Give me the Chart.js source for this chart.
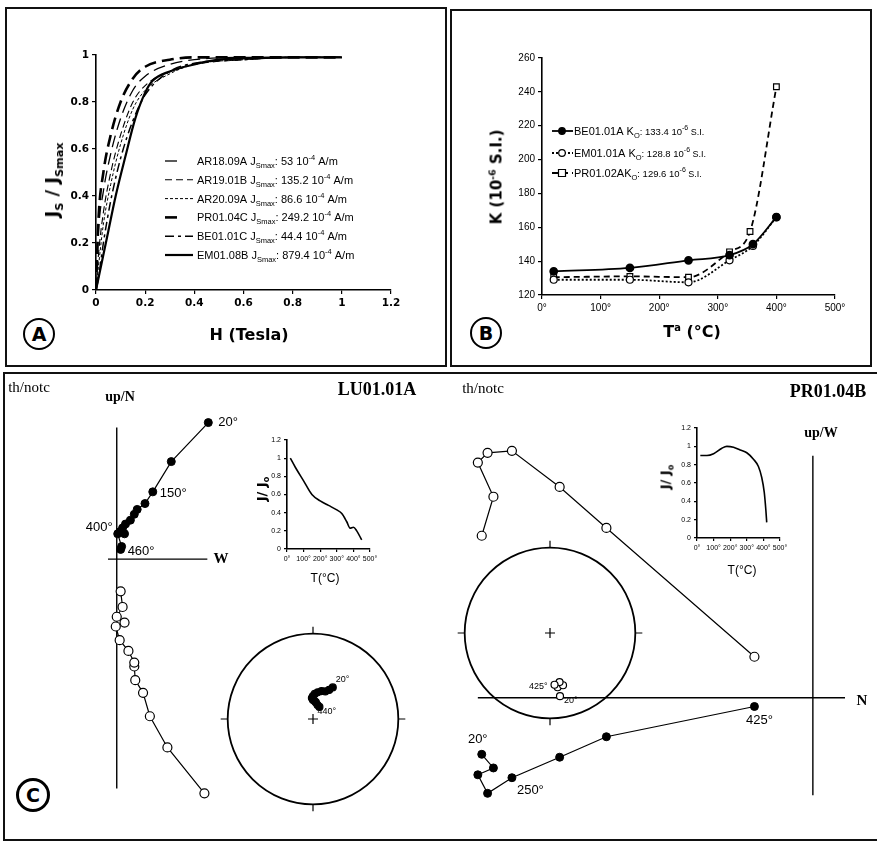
<!DOCTYPE html>
<html>
<head>
<meta charset="utf-8">
<title>IRM, susceptibility and demagnetisation</title>
<script src="https://cdn.jsdelivr.net/npm/chart.js@4.4.1/dist/chart.umd.min.js"></script>
<style>
  html, body { margin: 0; padding: 0; background: #fff; }
  body { position: relative; width: 877px; height: 843px; overflow: hidden; color: #000; }
  canvas { position: absolute; }
  .frame { position: absolute; box-sizing: border-box; border: 2px solid #111; }
  .t { position: absolute; white-space: nowrap; line-height: 1; }
  .title { font-family: 'DejaVu Sans', sans-serif; font-weight: bold; }
  .serif { font-family: 'Liberation Serif', serif; }
  .ring { position: absolute; box-sizing: border-box; border: 2px solid #000; border-radius: 50%;
          font-family: 'DejaVu Sans', sans-serif; font-weight: bold;
          display: flex; align-items: center; justify-content: center; }
  sub, sup { font-size: 62%; line-height: 0; }
</style>
</head>
<body>
<div class="frame" style="left:5px;top:7px;width:442px;height:360px"></div>
<div class="frame" style="left:450px;top:9px;width:422px;height:358px"></div>
<div class="frame" style="left:3px;top:372px;width:890px;height:469px"></div>
<div class="ring" style="left:23px;top:318px;width:32px;height:32px;font-size:19px">A</div>
<div class="ring" style="left:470px;top:317px;width:32px;height:32px;font-size:19px">B</div>
<div class="ring" style="left:16px;top:778px;width:34px;height:34px;font-size:19px;border-width:3px">C</div>

<script>
// ---------- A : normalised IRM acquisition ----------
const irmField = [0, 0.01, 0.03, 0.06, 0.1, 0.15, 0.2, 0.3, 0.4, 0.6, 0.8, 1.0];
const irmFieldEM = [0, 0.02, 0.05, 0.08, 0.12, 0.16, 0.2, 0.23, 0.3, 0.4, 0.5, 0.6, 0.8, 1.0];
const irmAR1809A = [0, 0.25, 0.42, 0.58, 0.73, 0.85, 0.91, 0.96, 0.98, 0.99, 0.99, 0.99];
const irmAR1901B = [0, 0.15, 0.33, 0.5, 0.66, 0.8, 0.87, 0.93, 0.96, 0.98, 0.99, 0.99];
const irmAR2009A = [0, 0.1, 0.28, 0.45, 0.62, 0.77, 0.85, 0.92, 0.96, 0.98, 0.99, 0.99];
const irmPR0104C = [0, 0.3, 0.5, 0.66, 0.8, 0.9, 0.95, 0.98, 0.99, 0.99, 0.99, 0.99];
const irmBE0101C = [0, 0.05, 0.2, 0.38, 0.56, 0.72, 0.83, 0.93, 0.965, 0.98, 0.99, 0.99];
const irmEM0108B = [0, 0.1, 0.25, 0.4, 0.57, 0.73, 0.84, 0.89, 0.93, 0.96, 0.98, 0.985, 0.99, 0.99];
const irmSamples = ['AR18.09A', 'AR19.01B', 'AR20.09A', 'PR01.04C', 'BE01.01C', 'EM01.08B'];
const irmJsmax = ['53', '135.2', '86.6', '249.2', '44.4', '879.4'];
const irmTicksX = ['0', '0.2', '0.4', '0.6', '0.8', '1', '1.2'];
const irmTicksY = ['0', '0.2', '0.4', '0.6', '0.8', '1'];

// ---------- B : susceptibility vs temperature ----------
const suscTemp = [20, 150, 250, 320, 360, 400];
const suscTempPR = [20, 150, 250, 320, 355, 400];
const suscBE0101A = [134, 136, 140.5, 143.5, 150, 166];
const suscEM0101A = [129, 129, 127.5, 140.5, 149, 166];
const suscPR0102A = [130.5, 131, 130.5, 145.5, 157.5, 243];
const suscNames = ['BE01.01A K', 'EM01.01A K', 'PR01.02AK'];
const suscK0 = ['133.4', '128.8', '129.6'];
const suscTicksX = ['0°', '100°', '200°', '300°', '400°', '500°'];
const suscTicksY = ['120', '140', '160', '180', '200', '220', '240', '260'];

// ---------- C : LU01.01A ----------
const luHorX = [9.4, 5.6, 3.7, 2.9, 2.1, 1.8, 1.4, 0.9, 0.6, 0.3, 0.8, 0.1, 0.5, 0.4];
const luHorY = [14.0, 10.0, 6.9, 5.7, 5.1, 4.6, 4.0, 3.6, 3.2, 2.8, 2.6, 2.6, 1.3, 1.0];
const luVerX = [9.0, 5.2, 3.4, 2.7, 1.9, 1.8, 1.8, 1.2, 0.3, -0.1, 0.8, 0.0, 0.6, 0.4];
const luVerY = [-24.0, -19.3, -16.1, -13.7, -12.4, -11.0, -10.6, -9.4, -8.3, -6.9, -6.5, -5.9, -4.9, -3.3];
const luDemagT = [20, 50, 100, 150, 200, 250, 300, 330, 360, 380, 400, 420, 450];
const luDemagJ = [1.0, 0.9, 0.75, 0.6, 0.53, 0.48, 0.43, 0.39, 0.3, 0.23, 0.24, 0.2, 0.1];
const luStereoDec = [32, 29, 24, 17, 10, 4, 0, 357, 0, 6, 10, 18, 28];
const luStereoInc = [54, 58, 61, 62, 64, 66, 68, 70, 72, 73, 74, 76, 77];

// ---------- C : PR01.04B ----------
const prN = [-34.0, -32.8, -34.4, -33.4, -30.9, -26.0, -21.2, -6.0];
const prHorW = [-5.8, -7.2, -7.9, -9.8, -8.2, -6.1, -4.0, -0.9];
const prVerUp = [16.6, 20.6, 24.1, 25.1, 25.3, 21.6, 17.4, 4.2];
const prDemagT = [20, 60, 100, 150, 180, 220, 260, 300, 340, 370, 390, 405, 415, 420];
const prDemagJ = [0.9, 0.9, 0.92, 0.98, 1.0, 0.99, 0.96, 0.93, 0.86, 0.78, 0.66, 0.5, 0.3, 0.17];
const prStereoDec = [171, 172, 166, 169, 175];
const prStereoInc = [-26, -36, -37, -41, -39];

const demagTicksX = ['0°', '100°', '200°', '300°', '400°', '500°'];
const demagTicksY = ['0', '0.2', '0.4', '0.6', '0.8', '1', '1.2'];

Chart.defaults.responsive = false;
Chart.defaults.animation = false;
Chart.defaults.devicePixelRatio = 1;
Chart.defaults.color = '#000';
Chart.defaults.font.family = '"Liberation Sans", Arial, sans-serif';
Chart.defaults.plugins.legend.display = false;
Chart.defaults.plugins.tooltip.enabled = false;

function makeCanvas(left, top, w, h) {
  const c = document.createElement('canvas');
  c.width = w; c.height = h;
  c.style.left = left + 'px'; c.style.top = top + 'px';
  c.style.width = w + 'px'; c.style.height = h + 'px';
  document.body.appendChild(c);
  return c;
}

function pts(xs, ys) { return xs.map((x, i) => ({ x: x, y: ys[i] })); }

function put(html, x, y, cls, css, rot) {
  const d = document.createElement('div');
  d.className = 't ' + (cls || '');
  d.innerHTML = html;
  d.style.cssText = 'left:' + x + 'px;top:' + y + 'px;transform:translate(-50%,-50%)' +
    (rot ? ' rotate(-90deg)' : '') + ';' + (css || '');
  document.body.appendChild(d);
}

function axis(min, max, step, labels, font, fit, isY, tick) {
  return {
    type: 'linear', min: min, max: max,
    border: { display: true, color: '#000', width: 1.6 },
    grid: { display: true, drawOnChartArea: false, drawTicks: true, tickLength: tick || 4, color: '#000', lineWidth: 1.2 },
    ticks: { stepSize: step, autoSkip: false, maxRotation: 0, padding: 3, font: font,
             callback: (v, i) => labels[i] },
    afterFit: s => { if (isY) s.width = fit; else s.height = fit; }
  };
}

// text with sub / superscripts: [text, size, shift]
function richText(ctx, x, y, parts) {
  let cx = x;
  ctx.save();
  ctx.fillStyle = '#000';
  ctx.textAlign = 'left';
  ctx.textBaseline = 'alphabetic';
  parts.forEach(p => {
    ctx.font = p[1] + 'px "Liberation Sans", Arial, sans-serif';
    ctx.fillText(p[0], cx, y + p[2]);
    cx += ctx.measureText(p[0]).width;
  });
  ctx.restore();
}

// legend of panel A
const legendA = {
  id: 'legendA',
  afterDraw(chart, args, o) {
    const ctx = chart.ctx;
    chart.data.datasets.forEach((ds, i) => {
      const y = o.y0 + i * o.dy;
      ctx.save();
      ctx.strokeStyle = '#000';
      ctx.lineWidth = ds.borderWidth;
      ctx.setLineDash(ds.borderDash);
      ctx.beginPath(); ctx.moveTo(o.x0, y); ctx.lineTo(o.ends[i], y); ctx.stroke();
      ctx.restore();
      richText(ctx, o.xt, y + 4, [[ds.label + ' J', 11, 0], ['Smax', 7.5, 3],
        [': ' + irmJsmax[i] + ' 10', 11, 0], ['-4', 7.5, -5], [' A/m', 11, 0]]);
    });
  }
};

// legend of panel B
const legendB = {
  id: 'legendB',
  afterDraw(chart, args, o) {
    const ctx = chart.ctx;
    chart.data.datasets.forEach((ds, i) => {
      const y = o.rows[i];
      ctx.save();
      ctx.strokeStyle = '#000';
      ctx.lineWidth = ds.borderWidth;
      ctx.setLineDash(ds.borderDash);
      ctx.beginPath(); ctx.moveTo(o.x0, y); ctx.lineTo(o.x1, y); ctx.stroke();
      ctx.setLineDash([]);
      ctx.lineWidth = 1.2;
      ctx.fillStyle = ds.pointBackgroundColor;
      ctx.beginPath();
      if (ds.pointStyle === 'rect') ctx.rect(o.xm - 3.5, y - 3.5, 7, 7);
      else ctx.arc(o.xm, y, 3.3, 0, Math.PI * 2);
      ctx.fill(); ctx.stroke();
      ctx.restore();
      richText(ctx, o.x1 + 1, y + 4, [[suscNames[i], 11, 0], ['O', 7.5, 3],
        [': ' + suscK0[i] + ' 10', 9.5, 0], ['-6', 7, -5], [' S.I.', 9, 0]]);
    });
  }
};

// orthogonal (Zijderveld) axes through the origin
const zijAxes = {
  id: 'zijAxes',
  beforeDatasetsDraw(chart, args, o) {
    const { ctx, scales: { x, y } } = chart;
    ctx.save();
    ctx.strokeStyle = '#000'; ctx.lineWidth = 1.4;
    ctx.beginPath();
    ctx.moveTo(x.getPixelForValue(o.h[0]), y.getPixelForValue(0));
    ctx.lineTo(x.getPixelForValue(o.h[1]), y.getPixelForValue(0));
    ctx.moveTo(x.getPixelForValue(0), y.getPixelForValue(o.v[0]));
    ctx.lineTo(x.getPixelForValue(0), y.getPixelForValue(o.v[1]));
    ctx.stroke();
    ctx.restore();
  }
};

// equal-area net outline
const netOutline = {
  id: 'netOutline',
  beforeDatasetsDraw(chart) {
    const { ctx, scales: { x, y } } = chart;
    const cx = x.getPixelForValue(0), cy = y.getPixelForValue(0);
    const r = x.getPixelForValue(1) - cx;
    ctx.save();
    ctx.strokeStyle = '#000'; ctx.lineWidth = 1.8;
    ctx.beginPath(); ctx.arc(cx, cy, r, 0, Math.PI * 2); ctx.stroke();
    ctx.lineWidth = 1.2;
    ctx.beginPath();
    ctx.moveTo(cx, cy - r); ctx.lineTo(cx, cy - r - 7);
    ctx.moveTo(cx, cy + r); ctx.lineTo(cx, cy + r + 7);
    ctx.moveTo(cx - r, cy); ctx.lineTo(cx - r - 7, cy);
    ctx.moveTo(cx + r, cy); ctx.lineTo(cx + r + 7, cy);
    ctx.moveTo(cx - 5, cy); ctx.lineTo(cx + 5, cy);
    ctx.moveTo(cx, cy - 5); ctx.lineTo(cx, cy + 5);
    ctx.stroke();
    ctx.restore();
  }
};

// temperature step labels next to data points
const stepLabels = {
  id: 'stepLabels',
  afterDatasetsDraw(chart, args, o) {
    const ctx = chart.ctx;
    ctx.save();
    ctx.fillStyle = '#000';
    ctx.font = o.font;
    ctx.textBaseline = 'middle';
    o.items.forEach(l => {
      const el = chart.getDatasetMeta(l.ds).data[l.i];
      ctx.textAlign = l.align;
      ctx.fillText(l.text, el.x + l.dx, el.y + l.dy);
    });
    ctx.restore();
  }
};

function schmidt(dec, inc) {
  const r = Math.SQRT2 * Math.sin((90 - Math.abs(inc)) * Math.PI / 360);
  return { x: r * Math.sin(dec * Math.PI / 180), y: r * Math.cos(dec * Math.PI / 180) };
}

// ---------------- Panel A ----------------
const irmCurves = [irmAR1809A, irmAR1901B, irmAR2009A, irmPR0104C, irmBE0101C, irmEM0108B];
const dashA = [[12, 6], [7, 4], [3, 2], [12, 6], [9, 4, 3, 4], []];
const widthA = [1.3, 1.1, 1.0, 2.6, 1.5, 2.2];
const tickFontA = { size: 10.5, weight: 'bold', family: '"DejaVu Sans", sans-serif' };

new Chart(makeCanvas(0, 0, 450, 370), {
  type: 'scatter',
  data: {
    datasets: irmSamples.map((name, i) => ({
      label: name,
      data: pts(i === 5 ? irmFieldEM : irmField, irmCurves[i]),
      showLine: true, pointRadius: 0,
      borderColor: '#000', borderWidth: widthA[i], borderDash: dashA[i],
      cubicInterpolationMode: 'monotone'
    }))
  },
  options: {
    layout: { padding: { left: 46, top: 55, right: 59, bottom: 50 } },
    scales: {
      x: axis(0, 1.2, 0.2, irmTicksX, tickFontA, 30, false),
      y: axis(0, 1, 0.2, irmTicksY, tickFontA, 50, true)
    },
    plugins: { legendA: { x0: 165, xt: 197, y0: 161, dy: 18.8, ends: [180, 193, 195, 180, 193, 193] } }
  },
  plugins: [legendA]
});
put('H (Tesla)', 249, 335, 'title', 'font-size:16px');
put('J<sub>S</sub> / J<sub>Smax</sub>', 52, 180, 'title', 'font-size:18px', true);

// ---------------- Panel B ----------------
const tickFontB = { size: 10 };
new Chart(makeCanvas(450, 0, 427, 370), {
  type: 'scatter',
  data: {
    datasets: [
      { label: 'BE01.01A', data: pts(suscTemp, suscBE0101A), showLine: true,
        borderColor: '#000', borderWidth: 1.8, borderDash: [],
        pointStyle: 'circle', pointRadius: 3.5, pointBackgroundColor: '#000', pointBorderColor: '#000',
        cubicInterpolationMode: 'monotone' },
      { label: 'EM01.01A', data: pts(suscTemp, suscEM0101A), showLine: true,
        borderColor: '#000', borderWidth: 1.8, borderDash: [2, 2],
        pointStyle: 'circle', pointRadius: 3.5, pointBackgroundColor: '#fff', pointBorderColor: '#000', pointBorderWidth: 1.2,
        cubicInterpolationMode: 'monotone' },
      { label: 'PR01.02A', data: pts(suscTempPR, suscPR0102A), showLine: true,
        borderColor: '#000', borderWidth: 1.8, borderDash: [6, 4],
        pointStyle: 'rect', pointRadius: 4, pointBackgroundColor: '#fff', pointBorderColor: '#000', pointBorderWidth: 1.2,
        cubicInterpolationMode: 'monotone' }
    ]
  },
  options: {
    layout: { padding: { left: 52, top: 58, right: 42, bottom: 50 } },
    scales: {
      x: axis(0, 500, 100, suscTicksX, tickFontB, 25, false),
      y: axis(120, 260, 20, suscTicksY, tickFontB, 40, true)
    },
    plugins: { legendB: { x0: 102, x1: 123, xm: 112, rows: [131, 153, 173] } }
  },
  plugins: [legendB]
});
put('T<sup>a</sup> (°C)', 692, 332, 'title', 'font-size:16px');
put('K (10<sup>-6</sup> S.I.)', 497, 177, 'title', 'font-size:15px', true);

// ---------------- Panel C : Zijderveld diagrams ----------------
const filled = { pointRadius: 4, pointBackgroundColor: '#000', pointBorderColor: '#000', pointBorderWidth: 1,
                 borderColor: '#000', borderWidth: 1.2, showLine: true };
const open = { pointRadius: 4.5, pointBackgroundColor: '#fff', pointBorderColor: '#000', pointBorderWidth: 1.2,
               borderColor: '#000', borderWidth: 1.2, showLine: true };
const hidden = (min, max) => ({ type: 'linear', display: false, min: min, max: max });

new Chart(makeCanvas(0, 372, 440, 468), {
  type: 'scatter',
  data: {
    datasets: [
      Object.assign({ label: 'horizontal', data: pts(luHorX, luHorY) }, filled),
      Object.assign({ label: 'vertical', data: pts(luVerX, luVerY) }, open)
    ]
  },
  options: {
    scales: { x: hidden(-11.4, 32.6), y: hidden(-28.2, 18.6) },
    plugins: {
      zijAxes: { h: [-0.9, 9.3], v: [-23.5, 13.5] },
      stepLabels: { font: '13px "Liberation Sans", Arial, sans-serif', items: [
        { ds: 0, i: 0, text: '20°', dx: 10, dy: 0, align: 'left' },
        { ds: 0, i: 2, text: '150°', dx: 7, dy: 2, align: 'left' },
        { ds: 0, i: 11, text: '400°', dx: -5, dy: -6, align: 'right' },
        { ds: 0, i: 13, text: '460°', dx: 7, dy: 2, align: 'left' }
      ] }
    }
  },
  plugins: [zijAxes, stepLabels]
});

new Chart(makeCanvas(440, 372, 437, 468), {
  type: 'scatter',
  data: {
    datasets: [
      Object.assign({ label: 'horizontal', data: pts(prN, prHorW) }, filled),
      Object.assign({ label: 'vertical', data: pts(prN, prVerUp) }, open)
    ]
  },
  options: {
    scales: { x: hidden(-37.7, 6.0), y: hidden(-14.0, 32.8) },
    plugins: {
      zijAxes: { h: [-34.4, 3.3], v: [-10.0, 24.8] },
      stepLabels: { font: '13px "Liberation Sans", Arial, sans-serif', items: [
        { ds: 0, i: 0, text: '20°', dx: -4, dy: -15, align: 'center' },
        { ds: 0, i: 4, text: '250°', dx: 5, dy: 13, align: 'left' },
        { ds: 0, i: 7, text: '425°', dx: 5, dy: 14, align: 'center' }
      ] }
    }
  },
  plugins: [zijAxes, stepLabels]
});

// ---------------- Panel C : stereonets ----------------
function stereo(left, top, dec, inc, isOpen, items) {
  new Chart(makeCanvas(left, top, 200, 200), {
    type: 'scatter',
    data: {
      datasets: [{
        label: 'directions',
        data: dec.map((d, i) => schmidt(d, inc[i])),
        pointRadius: 3.5, pointBorderColor: '#000', pointBorderWidth: 1.2,
        pointBackgroundColor: isOpen ? '#fff' : '#000'
      }]
    },
    options: {
      scales: { x: hidden(-1.1111, 1.1111), y: hidden(-1.1111, 1.1111) },
      plugins: { stepLabels: { font: '9px "Liberation Sans", Arial, sans-serif', items: items } }
    },
    plugins: [netOutline, stepLabels]
  });
}
stereo(213, 619, luStereoDec, luStereoInc, false, [
  { ds: 0, i: 0, text: '20°', dx: 3, dy: -8, align: 'left' },
  { ds: 0, i: 12, text: '440°', dx: -2, dy: 5, align: 'left' }
]);
stereo(450, 533, prStereoDec, prStereoInc, true, [
  { ds: 0, i: 0, text: '20°', dx: 4, dy: 4, align: 'left' },
  { ds: 0, i: 4, text: '425°', dx: -7, dy: 2, align: 'right' }
]);

// ---------------- Panel C : J/J0 insets ----------------
const tickFontC = { size: 7 };
function inset(left, top, pad, T, J) {
  new Chart(makeCanvas(left, top, 150, 160), {
    type: 'scatter',
    data: { datasets: [{ label: 'J/J0', data: pts(T, J), showLine: true, pointRadius: 0,
                         borderColor: '#000', borderWidth: 1.6, cubicInterpolationMode: 'monotone' }] },
    options: {
      layout: { padding: pad },
      scales: {
        x: axis(0, 500, 100, demagTicksX, tickFontC, 14, false, 3),
        y: axis(0, 1.2, 0.2, demagTicksY, tickFontC, 22, true, 3)
      }
    }
  });
}
inset(240, 420, { left: 25, top: 20, right: 20, bottom: 17 }, luDemagT, luDemagJ);
inset(650, 410, { left: 25, top: 18, right: 20, bottom: 18 }, prDemagT, prDemagJ);
put('J/ J<sub>o</sub>', 261, 489, 'title', 'font-size:13px', true);
put('T(°C)', 325, 578, '', 'font-family:"Liberation Sans",sans-serif;font-size:12px');
put('J/ J<sub>o</sub>', 665, 477, 'title', 'font-size:13px', true);
put('T(°C)', 742, 570, '', 'font-family:"Liberation Sans",sans-serif;font-size:12px');

// ---------------- Panel C : captions ----------------
put('th/notc', 29, 387, 'serif', 'font-size:15px');
put('LU01.01A', 377, 389, 'serif', 'font-size:18px;font-weight:bold');
put('up/N', 120, 397, 'serif', 'font-size:14px;font-weight:bold');
put('W', 221, 558, 'serif', 'font-size:15px;font-weight:bold');
put('th/notc', 483, 388, 'serif', 'font-size:15px');
put('PR01.04B', 828, 391, 'serif', 'font-size:18px;font-weight:bold');
put('up/W', 821, 433, 'serif', 'font-size:14px;font-weight:bold');
put('N', 862, 700, 'serif', 'font-size:15px;font-weight:bold');
</script>
</body>
</html>
